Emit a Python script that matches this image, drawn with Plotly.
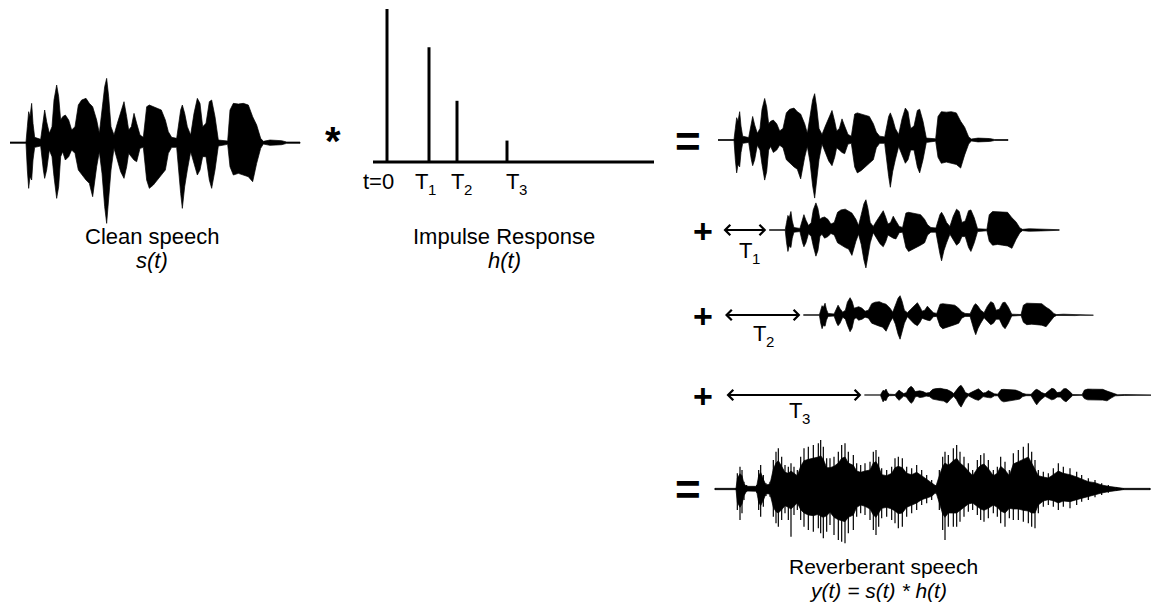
import plotly.graph_objects as go

# ---------------- data ----------------
# clean speech s(t): time (arbitrary units), upper / lower envelope amplitude
clean_t = [0, 48, 52, 56, 60, 65, 69, 74, 92, 100, 104, 110, 118, 126, 132, 140, 146, 152, 158, 166,
           176, 185, 195, 205, 215, 228, 238, 248, 260, 268, 276, 284, 290, 296, 303, 312, 322, 332,
           342, 350, 356, 364, 372, 380, 390, 400, 410, 418, 430, 442, 454, 466, 475, 485, 500, 512,
           517, 524, 532, 542, 552, 562, 570, 578, 588, 598, 605, 615, 625, 653, 660, 670, 685, 700,
           715, 728, 740, 752, 760, 780, 815, 830, 870]
clean_up = [2, 2, 48, 93, 78, 118, 58, 16, 10, 78, 98, 63, 28, 48, 128, 173, 138, 68, 78, 83,
            68, 38, 48, 113, 128, 133, 118, 108, 68, 28, 98, 168, 193, 138, 48, 23, 58, 93,
            123, 78, 38, 48, 88, 58, 23, 16, 108, 113, 108, 103, 98, 68, 33, 16, 13, 98,
            113, 88, 48, 23, 88, 133, 118, 48, 58, 123, 128, 78, 8, 5, 98, 118, 116, 118,
            113, 78, 53, 13, 4, 8, 6, 2, 2]
clean_lo = [2, 2, 82, 137, 102, 112, 52, 14, 10, 82, 107, 82, 22, 42, 102, 167, 132, 42, 27, 52,
            42, 22, 32, 82, 97, 112, 122, 162, 72, 27, 92, 192, 242, 182, 82, 17, 52, 87,
            107, 72, 32, 42, 52, 57, 17, 14, 112, 137, 127, 112, 97, 82, 32, 14, 14, 152,
            197, 132, 82, 27, 62, 97, 82, 42, 42, 112, 137, 82, 10, 5, 72, 97, 92, 97,
            102, 117, 62, 17, 4, 8, 6, 2, 2]

# reverberant speech y(t): time, spike-peak envelope and dense-core envelope
rev_t = [0, 63, 67, 75, 81, 87, 95, 125, 131, 137, 145, 153, 165, 175, 183, 190, 200, 210, 220, 228,
         237, 247, 257, 267, 280, 295, 310, 317, 325, 335, 345, 357, 370, 380, 390, 400, 415, 425,
         437, 450, 465, 475, 483, 491, 500, 515, 530, 540, 550, 562, 575, 590, 605, 620, 635, 650,
         663, 673, 683, 690, 700, 715, 725, 735, 747, 760, 773, 787, 797, 807, 820, 835, 847, 857,
         870, 883, 895, 910, 925, 940, 950, 960, 970, 985, 1000, 1015, 1030, 1045, 1065, 1085, 1100,
         1120, 1140, 1160, 1180, 1205, 1225, 1305]
rev_up = [2, 2, 47, 67, 57, 22, 12, 12, 57, 72, 42, 17, 22, 87, 112, 122, 97, 72, 67, 77,
          67, 57, 97, 122, 127, 132, 137, 147, 127, 92, 92, 97, 112, 132, 137, 112, 102, 77,
          72, 77, 82, 112, 117, 97, 62, 57, 67, 92, 97, 92, 67, 62, 72, 57, 42, 27,
          12, 57, 97, 112, 102, 122, 132, 112, 97, 77, 57, 87, 102, 107, 87, 57, 67, 97,
          82, 57, 107, 117, 127, 137, 112, 87, 57, 52, 47, 62, 77, 67, 62, 52, 42,
          32, 27, 17, 12, 5, 2, 2]
rev_lo = [2, 2, 63, 93, 73, 33, 8, 11, 63, 83, 53, 21, 23, 83, 103, 113, 93, 73, 93, 143,
          78, 63, 93, 113, 123, 128, 118, 133, 148, 128, 108, 138, 153, 158, 163, 133, 123, 83,
          73, 78, 93, 123, 138, 113, 88, 83, 93, 103, 118, 113, 83, 73, 63, 48, 43, 33,
          15, 63, 123, 153, 113, 113, 113, 98, 83, 68, 63, 78, 93, 98, 88, 73, 83, 103,
          113, 88, 93, 93, 98, 103, 113, 118, 73, 53, 48, 53, 63, 53, 58, 48, 38,
          33, 25, 18, 11, 5, 2, 2]
rev_core_up = [2, 2, 32, 46, 40, 15, 8, 8, 40, 50, 29, 12, 15, 60, 78, 85, 68, 50, 47, 54,
               47, 40, 68, 85, 89, 92, 96, 100, 89, 64, 64, 68, 78, 92, 96, 78, 71, 54,
               50, 54, 57, 78, 82, 68, 43, 40, 47, 64, 68, 64, 47, 43, 50, 40, 29, 19,
               9, 40, 68, 78, 71, 85, 92, 78, 68, 54, 40, 61, 71, 75, 61, 40, 47, 68,
               57, 40, 75, 82, 89, 96, 78, 61, 40, 36, 33, 43, 54, 47, 43, 36, 29,
               22, 19, 12, 8, 4, 2, 2]
rev_core_lo = [2, 2, 40, 55, 45, 20, 6, 7, 40, 50, 34, 14, 15, 55, 68, 72, 62, 50, 55, 60,
               52, 42, 62, 72, 78, 80, 76, 82, 85, 80, 70, 85, 92, 95, 98, 85, 78, 55,
               48, 52, 60, 78, 85, 72, 58, 55, 60, 66, 74, 72, 55, 48, 42, 32, 28, 22,
               10, 42, 75, 85, 72, 72, 72, 64, 55, 45, 42, 52, 60, 64, 58, 48, 55, 66,
               72, 58, 60, 60, 64, 66, 72, 72, 48, 36, 32, 35, 42, 36, 38, 32, 26,
               22, 17, 12, 8, 4, 2, 2]

# impulse response h(t)
ir_t = [0, 42, 70, 120]
ir_amp = [1.0, 0.75, 0.40, 0.14]
ir_names = ["t=0", "T", "T", "T"]
ir_subs = ["", "1", "2", "3"]
delay_subs = ["1", "2", "3"]

# ---------------- layout / style ----------------
W, H = 1151, 609
FONT = "Liberation Sans, Arial, sans-serif"
TS = 1 / 3.0          # time units -> px
AS = 1 / 3.0          # amplitude units -> px
CLEAN_POS = (10, 142.7)
REV_POS = (715, 489)
ROW_X0 = 718
DELAY_PX = 1.22       # impulse-time units -> px on the right side
ROW_BASE = [140, 230, 315, 395]
ROW_GAIN = [0.72, 0.47, 0.30, 0.15]
IR_X0, IR_BASE, IR_H = 387, 162, 153
IR_AXIS = (373, 654)
IR_LABEL_X = [378, 421, 457, 512]
IR_LABEL_Y = 181
DELAY_LABEL_POS = [(745, 250), (759, 333), (795, 410)]
SUB_DX, SUB_DY = 11, 8

fig = go.Figure()


def add_poly(xs, yu, yl):
    fig.add_trace(go.Scatter(
        x=xs + xs[::-1], y=yu + yl[::-1], mode="lines", fill="toself",
        fillcolor="black", line=dict(color="black", width=0.7),
        hoverinfo="skip", showlegend=False))


def add_wave(x0, base, t, up, lo, gain=1.0):
    xs = [x0 + v * TS for v in t]
    yu = [base - gain * a * AS for a in up]
    yl = [base + gain * a * AS for a in lo]
    add_poly(xs, yu, yl)


def add_spikes(x0, base, t, up, lo, width=1.2):
    sx, sy = [], []
    for v, a, b in zip(t, up, lo):
        sx += [x0 + v * TS, x0 + v * TS, None]
        sy += [base - a * AS, base + b * AS, None]
    fig.add_trace(go.Scatter(x=sx, y=sy, mode="lines", line=dict(color="black", width=width),
                             hoverinfo="skip", showlegend=False))


# clean speech
add_wave(CLEAN_POS[0], CLEAN_POS[1], clean_t, clean_up, clean_lo)

# direct + delayed copies
for i in range(4):
    x0 = ROW_X0 + ir_t[i] * DELAY_PX
    add_wave(x0, ROW_BASE[i], clean_t, clean_up, clean_lo, ROW_GAIN[i])

# reverberant speech: dense core + spikes
add_wave(REV_POS[0], REV_POS[1], rev_t, rev_core_up, rev_core_lo)
add_spikes(REV_POS[0], REV_POS[1], rev_t, rev_up, rev_lo)

# impulse response
ix, iy = [], []
for t, a in zip(ir_t, ir_amp):
    ix += [IR_X0 + t, IR_X0 + t, None]
    iy += [IR_BASE, IR_BASE - a * IR_H, None]
fig.add_trace(go.Scatter(x=ix, y=iy, mode="lines", line=dict(color="black", width=3),
                         hoverinfo="skip", showlegend=False))
fig.add_trace(go.Scatter(x=list(IR_AXIS), y=[IR_BASE, IR_BASE], mode="lines",
                         line=dict(color="black", width=3), hoverinfo="skip", showlegend=False))

ann = []


def text(x, y, s, size=22, weight="normal", style="normal"):
    ann.append(dict(x=x, y=y, xref="x", yref="y", text=s, showarrow=False,
                    xanchor="center", yanchor="middle",
                    font=dict(family=FONT, size=size, color="black", weight=weight, style=style)))


def sub_label(x, y, main, sub):
    text(x, y, main, 22)
    if sub:
        text(x + SUB_DX, y + SUB_DY, sub, 15)


text(152, 236, "Clean speech", 22)
text(152, 260, "s(t)", 22, style="italic")
text(504, 236, "Impulse Response", 22)
text(504, 260, "h(t)", 22, style="italic")
text(883, 566, "Reverberant speech", 21)
text(878, 590, "y(t) = s(t) * h(t)", 21, style="italic")

for lx, nm, sb in zip(IR_LABEL_X, ir_names, ir_subs):
    sub_label(lx, IR_LABEL_Y, nm, sb)

text(333, 141, "*", 40, weight="bold")
text(688, 141, "=", 44, weight="bold")
text(688, 489, "=", 44, weight="bold")

for i in range(1, 4):
    yb = ROW_BASE[i]
    xr = ROW_X0 + ir_t[i] * DELAY_PX - 3
    xl = 722 + (i - 1) * 1.5
    text(703, yb + 1, "+", 34, weight="bold")
    ann.append(dict(x=xr, y=yb, ax=xl, ay=yb, xref="x", yref="y", axref="x", ayref="y",
                    showarrow=True, arrowhead=4, startarrowhead=4, arrowside="end+start",
                    arrowwidth=2, arrowsize=1, startarrowsize=1, standoff=0, startstandoff=0,
                    arrowcolor="black", text=""))
    lx, ly = DELAY_LABEL_POS[i - 1]
    sub_label(lx, ly, "T", delay_subs[i - 1])

fig.update_layout(
    width=W, height=H, margin=dict(l=0, r=0, t=0, b=0),
    paper_bgcolor="white", plot_bgcolor="white", showlegend=False,
    annotations=ann,
    xaxis=dict(range=[0, W], visible=False, fixedrange=True),
    yaxis=dict(range=[H, 0], visible=False, fixedrange=True),
)

fig.write_html("out.html")
